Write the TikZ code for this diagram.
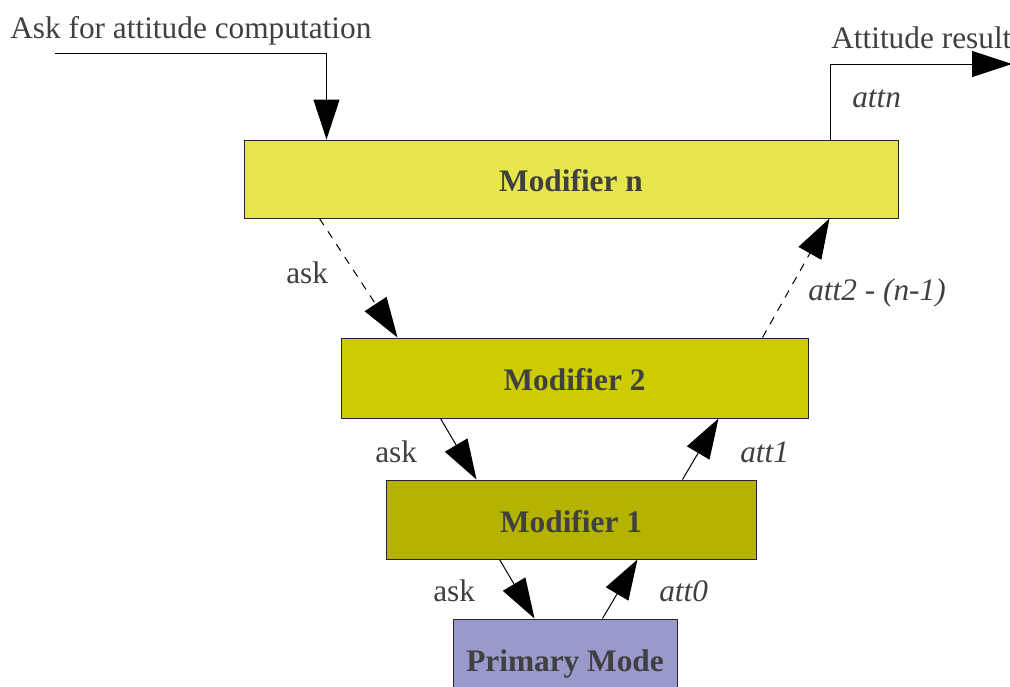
\documentclass[tikz,border=0pt]{standalone}
\usepackage{fontspec}
\setmainfont{Liberation Serif}
\usetikzlibrary{arrows.meta,calc}

\definecolor{txt}{HTML}{404040}
\definecolor{edge}{HTML}{262626}
\definecolor{fillN}{HTML}{E6E64C}
\definecolor{fillTwo}{HTML}{CCCC00}
\definecolor{fillOne}{HTML}{B3B300}
\definecolor{fillPrim}{HTML}{9999CC}

\tikzset{
  modbox/.style={draw=edge, line width=0.75pt, inner sep=0pt, text=txt,
    text height=18.75pt, text depth=0pt,
    font=\fontsize{23.5}{26}\selectfont\bfseries},
  lbl/.style={inner sep=0pt, text=txt, font=\fontsize{23.5}{26}\selectfont},
  ilbl/.style={lbl, font=\fontsize{23.5}{26}\selectfont\itshape},
  flow/.style={draw=black, line width=0.75pt,
    -{Triangle[length=30pt,width=19.5pt]}},
  dflow/.style={flow, dash pattern=on 6pt off 5.5pt}
}

\begin{document}
\begin{tikzpicture}[x=0.75pt, y=-0.75pt]
\clip (0,0) rectangle (1010,686);

% stacked modifier boxes
\node[modbox, fill=fillN, minimum width=490.5pt, minimum height=58.5pt]
  (modn) at (571,179) {Modifier n};
\node[modbox, fill=fillTwo, minimum width=350.25pt, minimum height=60pt]
  (modtwo) at (574.5,378) {Modifier 2};
\node[modbox, fill=fillOne, minimum width=277.5pt, minimum height=59.25pt]
  (modone) at (571,519.5) {Modifier 1};
\node[modbox, fill=fillPrim, minimum width=168pt, minimum height=60pt]
  (prim) at (565,659) {Primary Mode};

% request entering and result leaving
\coordinate (reqin) at (55,53);
\coordinate (resout) at (1012,64);
\draw[flow] (reqin) -| ($(modn.north west)+(83,0)$);
\draw[flow] ($(modn.north west)+(587,0)$) |- (resout);

\node[lbl, anchor=base west] (reqlbl) at (10,38) {Ask for attitude computation};
\node[lbl, anchor=base west] (reslbl) at (831,48) {Attitude result};
\node[ilbl, anchor=base west] (attnlbl) at (852,107) {attn};

% modifier n <-> modifier 2
\draw[dflow] ($(modn.south west)+(76,0)$) -- ($(modtwo.north west)+(57,0)$);
\draw[dflow] ($(modtwo.north west)+(422,0)$) -- ($(modn.south west)+(586,0)$);
\node[lbl, anchor=base west] (askA) at (286,283) {ask};
\node[ilbl, anchor=base west] (attA) at (808,300) {att2 - (n-1)};

% modifier 2 <-> modifier 1
\draw[flow] ($(modtwo.south west)+(100,0)$) -- ($(modone.north west)+(91,0)$);
\draw[flow] ($(modone.north west)+(297,0)$) -- ($(modtwo.south west)+(378,0)$);
\node[lbl, anchor=base west] (askB) at (375,462) {ask};
\node[ilbl, anchor=base west] (attB) at (740,462) {att1};

% modifier 1 <-> primary mode
\draw[flow] ($(modone.south west)+(114,0)$) -- ($(prim.north west)+(82,0)$);
\draw[flow] ($(prim.north west)+(150,0)$) -- ($(modone.south west)+(252,0)$);
\node[lbl, anchor=base west] (askC) at (433,601) {ask};
\node[ilbl, anchor=base west] (attC) at (659,601) {att0};
\end{tikzpicture}
\end{document}
